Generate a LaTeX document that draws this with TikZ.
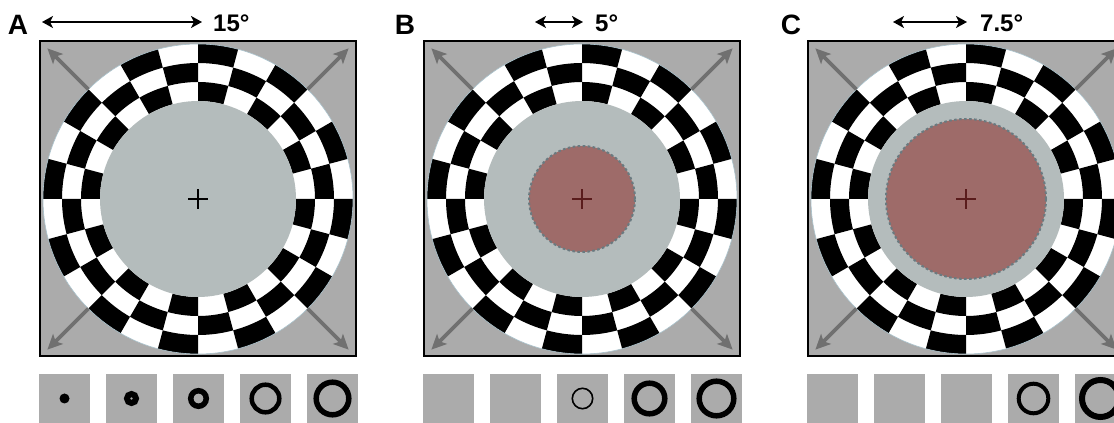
\documentclass[tikz,border=0pt]{standalone}
\usepackage{fontspec}
\setmainfont{Liberation Sans}
\usetikzlibrary{arrows.meta,calc}
\definecolor{bg}{HTML}{ABABAB}
\definecolor{innergray}{HTML}{B4BCBC}
\definecolor{disc}{HTML}{9E6B69}
\definecolor{arrowgray}{HTML}{707070}
\definecolor{dashc}{HTML}{6A7A80}
\definecolor{outl}{HTML}{A9C2CC}
\definecolor{crossred}{HTML}{5A1C1C}
\tikzset{
  diagarrow/.style={draw=arrowgray, line width=3.6pt, -{Stealth[length=15pt,width=14pt,inset=3.5pt]}},
  toparrow/.style={draw=black, line width=2.6pt, {Stealth[length=11pt,width=12pt,inset=3pt]}-{Stealth[length=11pt,width=12pt,inset=3pt]}},
  panellabel/.style={font=\bfseries\fontsize{28}{30}\selectfont, inner sep=0pt, anchor=base},
  deglabel/.style={font=\bfseries\fontsize{24}{26}\selectfont, inner sep=0pt, anchor=base west},
  crossmark/.style={line width=2.2pt},
  ringmark/.style={draw=black},
}
\begin{document}
\begin{tikzpicture}
\useasboundingbox (0,0) rectangle (1114pt,423pt);
\clip (0,0) rectangle (1114pt,423pt);
\fill[white] (0,0) rectangle (1114pt,423pt);

\foreach \p/\ox/\dr/\cc in {A/0/0/black, B/384/53/crossred, C/768/80/crossred}{
  \begin{scope}[xshift=\ox pt]
    \fill[bg] (40pt,67pt) rectangle (356pt,382pt);
    \coordinate (c\p) at (198pt,224pt);
    \fill[white] (c\p) circle[radius=155pt];
    \foreach \i in {0,...,23}{
      \foreach \j in {0,1,2}{
        \pgfmathtruncatemacro\odd{mod(\i+\j,2)}
        \ifnum\odd=0
          \pgfmathsetmacro\ri{98+19*\j}
          \pgfmathsetmacro\ro{\ri+19}
          \pgfmathsetmacro\a{90-15*\i}
          \pgfmathsetmacro\b{\a-15}
          \fill[black] ($(c\p)+(\a:\ri pt)$) arc[start angle=\a,end angle=\b,radius=\ri pt]
            -- ($(c\p)+(\b:\ro pt)$) arc[start angle=\b,end angle=\a,radius=\ro pt] -- cycle;
        \fi
      }
    }
    \draw[outl, line width=0.6pt] (c\p) circle[radius=155pt];
    \fill[innergray] (c\p) circle[radius=98pt];
    \ifnum\dr>0
      \fill[disc] (c\p) circle[radius=\dr pt];
      \draw[dashc, line width=2pt, dash pattern=on 2.6pt off 2.4pt] (c\p) circle[radius=\dr pt];
    \fi
    \draw[\cc, crossmark] ($(c\p)+(-10pt,0)$) -- ($(c\p)+(10pt,0)$);
    \draw[\cc, crossmark] ($(c\p)+(0,-10pt)$) -- ($(c\p)+(0,10pt)$);
    \foreach \ang in {45,135,225,315}{
      \draw[diagarrow] ($(c\p)+(\ang:155pt)$) -- ($(c\p)+(\ang:213pt)$);
    }
    \draw[black, line width=2pt] (40pt,67pt) rectangle (356pt,382pt);
    \foreach \k in {0,...,4}{
      \pgfmathsetmacro\sx{39+67*\k}
      \pgfmathsetmacro\ex{90+67*\k}
      \fill[bg] (\sx pt,0pt) rectangle (\ex pt,49pt);
    }
  \end{scope}
}

% panel letters and scale arrows
\node[panellabel] (labA) at (18pt,388pt) {A};
\node[panellabel] (labB) at (405pt,388pt) {B};
\node[panellabel] (labC) at (791pt,388pt) {C};

\coordinate (tlA) at (42pt,401pt);  \coordinate (trA) at (202pt,401pt);
\coordinate (tlB) at (535pt,401pt); \coordinate (trB) at (583pt,401pt);
\coordinate (tlC) at (893pt,401pt); \coordinate (trC) at (967pt,401pt);
\draw[toparrow] (tlA) -- (trA);
\draw[toparrow] (tlB) -- (trB);
\draw[toparrow] (tlC) -- (trC);
\node[deglabel] (degA) at (213pt,391pt) {15°};
\node[deglabel] (degB) at (595pt,391pt) {5°};
\node[deglabel] (degC) at (980pt,391pt) {7.5°};

% bottom ring stimuli
\fill[black] (64.5pt,24.5pt) circle[radius=5pt];
\draw[ringmark, line width=6pt] (131.5pt,24.5pt) circle[radius=4.5pt];
\draw[ringmark, line width=5.5pt] (198.5pt,24.5pt) circle[radius=7.75pt];
\draw[ringmark, line width=4.5pt] (265.5pt,24.5pt) circle[radius=13.8pt];
\draw[ringmark, line width=5.5pt] (332.5pt,24.5pt) circle[radius=16.3pt];

\draw[ringmark, line width=1.6pt] (582.5pt,24.5pt) circle[radius=10.2pt];
\draw[ringmark, line width=5.5pt] (649.5pt,24.5pt) circle[radius=15.3pt];
\draw[ringmark, line width=5.5pt] (716.5pt,24.5pt) circle[radius=17.3pt];

\draw[ringmark, line width=4pt] (1033.5pt,24.5pt) circle[radius=14.8pt];
\draw[ringmark, line width=6pt] (1100.5pt,24.5pt) circle[radius=18.5pt];
\end{tikzpicture}
\end{document}
